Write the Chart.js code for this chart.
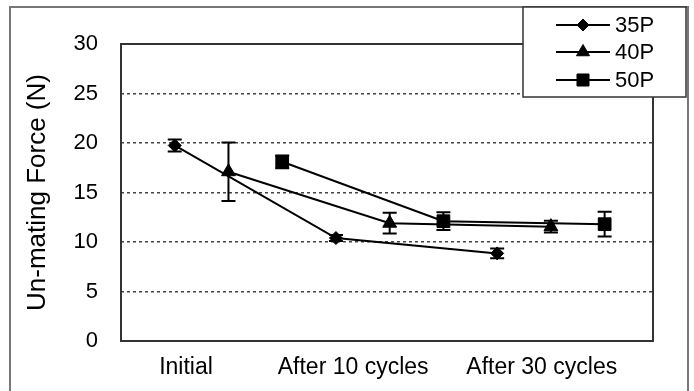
<!DOCTYPE html>
<html>
<head>
<meta charset="utf-8">
<script src="https://cdn.jsdelivr.net/npm/chart.js@4/dist/chart.umd.min.js"></script>
<style>
  html, body { margin: 0; padding: 0; background: #fff; }
  canvas { display: block; }
</style>
</head>
<body>
<canvas id="chart" width="694" height="391"></canvas>
<script>
// x labels and where they sit on the x scale
const xLabels = ["Initial", "After 10 cycles", "After 30 cycles"];
const xLabelPos = [1.21, 4.32, 7.83];

// each series is drawn a little offset from the others
const x35 = [1, 4, 7];
const x40 = [2, 5, 8];
const x50 = [3, 6, 9];

// mean un-mating force (N)
const force35 = [19.75, 10.4, 8.85];
const force40 = [17.1, 11.9, 11.55];
const force50 = [18.1, 12.1, 11.8];

// error (+/-)
const err35 = [0.6, 0.3, 0.5];
const err40 = [2.95, 1.05, 0.6];
const err50 = [0.65, 0.9, 1.25];

const FONT = "Arial, 'Liberation Sans', sans-serif";

function points(xs, ys) {
  return xs.map((x, i) => ({ x: x, y: ys[i] }));
}

function series(label, xs, ys, errs, style, radius) {
  return {
    label: label,
    data: points(xs, ys),
    errors: errs,
    borderColor: "#000",
    backgroundColor: "#000",
    borderWidth: 2,
    pointStyle: style,
    pointRadius: radius,
    pointHoverRadius: radius,
    pointBackgroundColor: "#000",
    pointBorderColor: "#000",
    pointBorderWidth: 1,
    tension: 0,
    fill: false
  };
}

// outer border + plot frame
const framePlugin = {
  id: "frame",
  beforeDraw(chart) {
    const ctx = chart.ctx;
    ctx.save();
    ctx.fillStyle = "#fff";
    ctx.fillRect(0, 0, chart.width, chart.height);
    ctx.strokeStyle = "#777";
    ctx.lineWidth = 2;
    ctx.strokeRect(10, 7, 678, 400);
    ctx.restore();
  },
  beforeDatasetsDraw(chart) {
    const a = chart.chartArea;
    const ctx = chart.ctx;
    ctx.save();
    ctx.strokeStyle = "#333";
    ctx.lineWidth = 2;
    ctx.strokeRect(a.left, a.top, a.right - a.left, a.bottom - a.top);
    ctx.restore();
  }
};

// error bars from the errors arrays, through the y scale
const errorBarPlugin = {
  id: "errorBars",
  afterDatasetsDraw(chart) {
    const ctx = chart.ctx;
    const yScale = chart.scales.y;
    ctx.save();
    ctx.strokeStyle = "#000";
    ctx.lineWidth = 2;
    chart.data.datasets.forEach((ds, di) => {
      const meta = chart.getDatasetMeta(di);
      meta.data.forEach((pt, i) => {
        const v = ds.data[i].y;
        const e = ds.errors[i];
        const top = yScale.getPixelForValue(v + e);
        const bot = yScale.getPixelForValue(v - e);
        const x = pt.x;
        ctx.beginPath();
        ctx.moveTo(x, top); ctx.lineTo(x, bot);
        ctx.moveTo(x - 7, top); ctx.lineTo(x + 7, top);
        ctx.moveTo(x - 7, bot); ctx.lineTo(x + 7, bot);
        ctx.stroke();
      });
    });
    ctx.restore();
  }
};

// boxed legend with line + marker symbols
const boxLegendPlugin = {
  id: "boxLegend",
  afterDraw(chart) {
    const ctx = chart.ctx;
    ctx.save();
    ctx.fillStyle = "#fff";
    ctx.fillRect(523, 7, 163, 90);
    ctx.strokeStyle = "#333";
    ctx.lineWidth = 1.5;
    ctx.strokeRect(523, 7, 163, 90);
    const rows = [25, 52, 80];
    chart.data.datasets.forEach((ds, i) => {
      const y = rows[i];
      ctx.strokeStyle = "#000";
      ctx.lineWidth = 2;
      ctx.beginPath();
      ctx.moveTo(556, y); ctx.lineTo(610, y);
      ctx.stroke();
      ctx.fillStyle = "#000";
      ctx.lineWidth = 1;
      Chart.helpers.drawPoint(ctx, {
        pointStyle: ds.pointStyle, radius: ds.pointRadius - 0.5, rotation: 0, borderWidth: 1
      }, 583, y);
      ctx.fillStyle = "#000";
      ctx.font = "22px " + FONT;
      ctx.textBaseline = "middle";
      ctx.textAlign = "left";
      ctx.fillText(ds.label, 615, y + 1);
    });
    ctx.restore();
  }
};

new Chart(document.getElementById("chart"), {
  type: "line",
  data: {
    datasets: [
      series("35P", x35, force35, err35, "rectRot", 6.5),
      series("40P", x40, force40, err40, "triangle", 8),
      series("50P", x50, force50, err50, "rect", 9)
    ]
  },
  options: {
    responsive: false,
    animation: false,
    layout: { padding: { left: 0, right: 41, top: 44, bottom: 0 } },
    plugins: {
      legend: { display: false },
      tooltip: { enabled: false }
    },
    scales: {
      x: {
        type: "linear",
        min: 0,
        max: 9.9,
        afterBuildTicks(scale) {
          scale.ticks = xLabelPos.map(v => ({ value: v }));
        },
        afterFit(scale) { scale.height = 50; },
        grid: { display: false, drawTicks: false },
        border: { display: false },
        ticks: {
          autoSkip: false,
          maxRotation: 0,
          padding: 13,
          color: "#000",
          font: { family: FONT, size: 23 },
          callback: (v, i) => xLabels[i]
        }
      },
      y: {
        min: 0,
        max: 30,
        afterFit(scale) { scale.width = 121; },
        grid: {
          drawTicks: false,
          lineWidth: 1.5,
          color: ctx => (ctx.tick && (ctx.tick.value === 0 || ctx.tick.value === 30)) ? "rgba(0,0,0,0)" : "#444"
        },
        border: { display: false, dash: [3, 3] },
        ticks: {
          stepSize: 5,
          padding: 23,
          color: "#000",
          font: { family: FONT, size: 22 }
        },
        title: {
          display: true,
          text: "Un-mating Force (N)",
          color: "#000",
          font: { family: FONT, size: 26 },
          padding: { top: 22, bottom: 0 }
        }
      }
    }
  },
  plugins: [framePlugin, errorBarPlugin, boxLegendPlugin]
});
</script>
</body>
</html>
